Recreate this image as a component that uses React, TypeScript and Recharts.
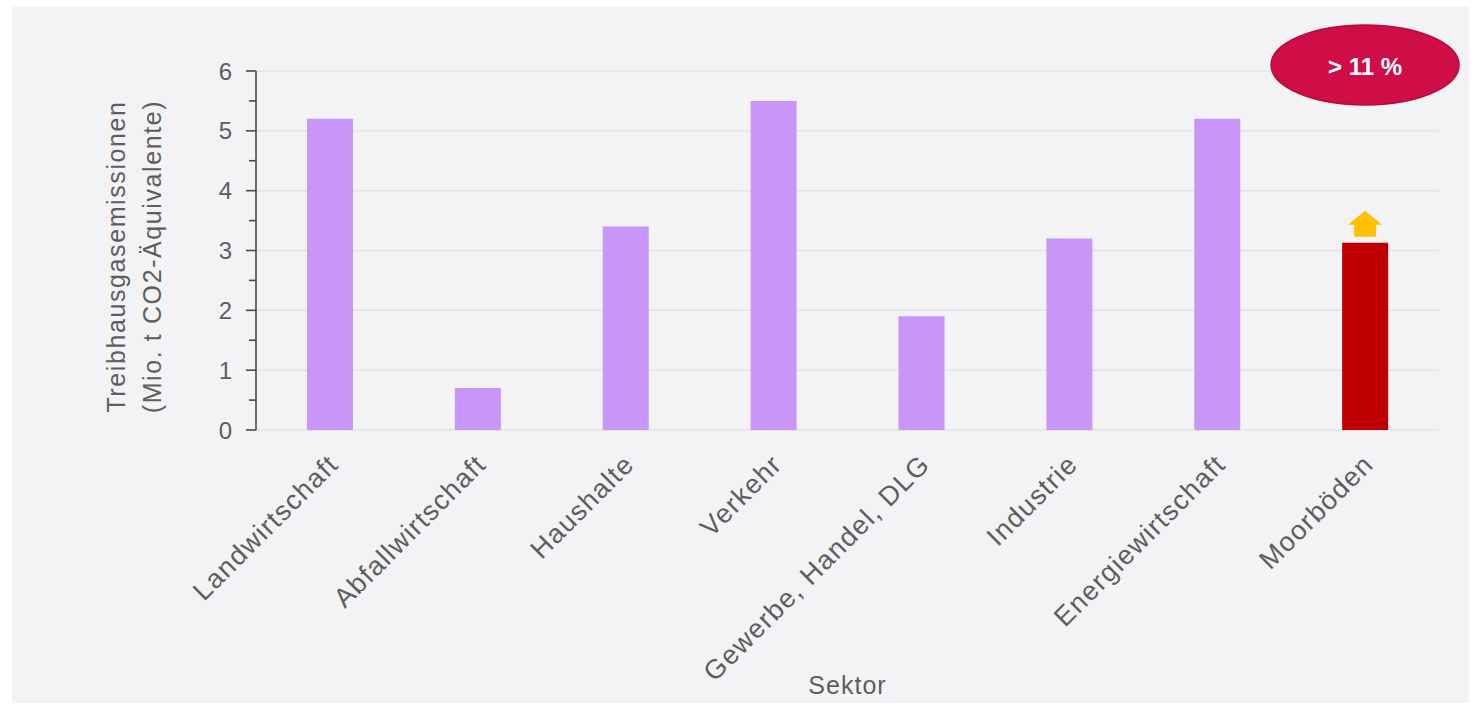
import React from 'react';
import { BarChart, Bar, XAxis, YAxis, Cell, CartesianGrid, ReferenceDot, LabelList } from 'recharts';

// Sektoren und Emissionen (Mio. t CO2-Äquivalente)
const categories = [
  'Landwirtschaft',
  'Abfallwirtschaft',
  'Haushalte',
  'Verkehr',
  'Gewerbe, Handel, DLG',
  'Industrie',
  'Energiewirtschaft',
  'Moorböden',
];
const emissions = [5.2, 0.7, 3.4, 5.5, 1.9, 3.2, 5.2, 3.13];
const highlight = 'Moorböden';
const badgeText = '> 11 %';
const badgeLevel = 6.1;

const yTicks = [0, 0.5, 1, 1.5, 2, 2.5, 3, 3.5, 4, 4.5, 5, 5.5, 6];
const yGrid = [0, 1, 2, 3, 4, 5, 6];

const FONT = "'Liberation Sans', Arial, Helvetica, sans-serif";
const TEXT = '#5e5e5e';
const PURPLE = '#c895f8';
const RED = '#c00000';

const data = categories.map((c, i) => ({ sektor: c, wert: emissions[i] }));

const YTick = (props: any) => {
  const { x, y, payload } = props;
  const major = Number.isInteger(payload.value);
  return (
    <g>
      <line x1={x - (major ? 10 : 7)} x2={x} y1={y} y2={y} stroke="#4a4a4a" strokeWidth={1.6} />
      {major && (
        <text x={x - 24} y={y} dy="0.36em" textAnchor="end" fontSize={24} fill={TEXT} fontFamily={FONT}>
          {payload.value}
        </text>
      )}
    </g>
  );
};

const XTick = (props: any) => {
  const { x, y, payload } = props;
  const ax = x + 10;
  const ay = y + 36;
  return (
    <text
      x={ax}
      y={ay}
      textAnchor="end"
      fontSize={27}
      letterSpacing={1.3}
      fill={TEXT}
      fontFamily={FONT}
      transform={`rotate(-45, ${ax}, ${ay})`}
    >
      {payload.value}
    </text>
  );
};

const YTitle = (props: any) => {
  const { viewBox } = props;
  const cy = viewBox.y + viewBox.height / 2 + 6;
  const lines = ['Treibhausgasemissionen', '(Mio. t CO2-Äquivalente)'];
  const xs = [116, 152];
  return (
    <g>
      {lines.map((l, i) => (
        <text
          key={l}
          x={xs[i]}
          y={cy}
          textAnchor="middle"
          dominantBaseline="central"
          fontSize={25}
          letterSpacing={1.6}
          fill={TEXT}
          fontFamily={FONT}
          transform={`rotate(-90, ${xs[i]}, ${cy})`}
        >
          {l}
        </text>
      ))}
    </g>
  );
};

const Badge = (props: any) => {
  const { cx, cy } = props;
  return (
    <g>
      <ellipse cx={cx} cy={cy} rx={94} ry={40} fill="#cf0d47" stroke="#b80a3d" strokeWidth={1.5} />
      <text x={cx} y={cy} dy="0.4em" textAnchor="middle" fontSize={24} fontWeight="bold" fill="#fff" fontFamily={FONT}>
        {badgeText}
      </text>
    </g>
  );
};

const Arrow = (props: any) => {
  const { x, y, width, index } = props;
  if (categories[index] !== highlight) return null;
  const cx = x + width / 2;
  const pts = [
    [cx, y - 32],
    [cx + 17, y - 18],
    [cx + 11, y - 18],
    [cx + 11, y - 6],
    [cx - 11, y - 6],
    [cx - 11, y - 18],
    [cx - 17, y - 18],
  ].map(p => p.join(',')).join(' ');
  return <polygon points={pts} fill="#ffc000" />;
};

export default function App() {
  return (
    <div style={{ position: 'absolute', left: 0, top: 0, width: 1480, height: 710, background: '#fff' }}>
      <div style={{ position: 'absolute', left: 12, top: 7, width: 1457, height: 696, background: '#f3f3f5' }} />
      <div style={{ position: 'absolute', left: 0, top: 0 }}>
        <BarChart
          width={1480}
          height={710}
          data={data}
          margin={{ top: 71, right: 41, bottom: 0, left: 156 }}
          barCategoryGap={0}
        >
          <CartesianGrid vertical={false} horizontalValues={yGrid} stroke="#e3e3e6" strokeWidth={1.5} />
          <XAxis
            dataKey="sektor"
            height={280}
            axisLine={false}
            tickLine={false}
            tickSize={0}
            tickMargin={0}
            interval={0}
            tick={<XTick />}
            label={{ value: 'Sektor', position: 'insideBottom', offset: 16, fontSize: 25, fill: TEXT, fontFamily: FONT, letterSpacing: 1 }}
          />
          <YAxis
            width={100}
            domain={[0, 6]}
            ticks={yTicks}
            interval={0}
            tickSize={0}
            tickMargin={0}
            tickLine={false}
            axisLine={{ stroke: '#4a4a4a', strokeWidth: 1.6 }}
            tick={<YTick />}
            label={{ content: <YTitle /> }}
          />
          <Bar dataKey="wert" barSize={46} isAnimationActive={false}>
            {data.map(d => (
              <Cell key={d.sektor} fill={d.sektor === highlight ? RED : PURPLE} />
            ))}
            <LabelList dataKey="wert" content={<Arrow />} />
          </Bar>
          <ReferenceDot x={highlight} y={badgeLevel} ifOverflow="visible" shape={<Badge />} />
        </BarChart>
      </div>
    </div>
  );
}
